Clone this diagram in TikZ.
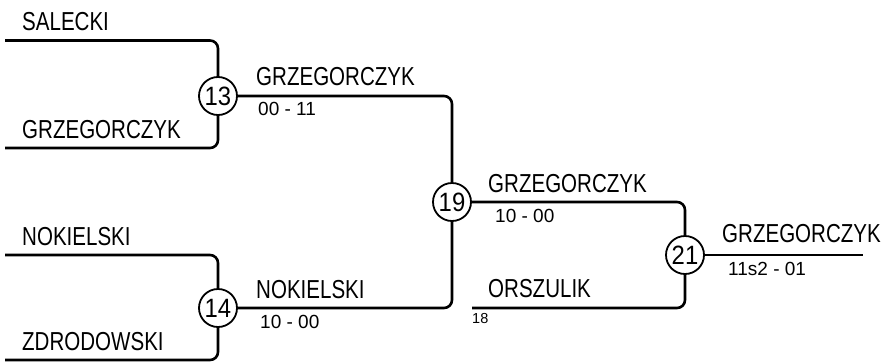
\documentclass[tikz,border=0pt]{standalone}
\usepackage{fontspec}
\setmainfont{Liberation Sans}
\newfontfamily\namefont[FakeStretch=0.79]{Liberation Sans}
\newfontfamily\numfont[FakeStretch=0.9]{Liberation Sans}
\begin{document}
\begin{tikzpicture}[x=1pt,y=-1pt,
  conn/.style={line width=2.6pt, rounded corners=8pt},
  match/.style={circle, draw, line width=1.8pt, minimum size=38pt, inner sep=0pt, fill=white,
     font=\numfont\fontsize{26.5}{26.5}\selectfont},
  pname/.style={anchor=base west, inner sep=0pt, font=\namefont\fontsize{26}{26}\selectfont},
  score/.style={anchor=base west, inner sep=0pt, font=\fontsize{19}{19}\selectfont},
  seed/.style={anchor=base west, inner sep=0pt, font=\fontsize{14.5}{14.5}\selectfont}]
\useasboundingbox (0,0) rectangle (884,362);

% match circles
\node[match] (m13) at (218,96) {13};
\node[match] (m14) at (218,308) {14};
\node[match] (m19) at (452,202) {19};
\node[match] (m21) at (685,255) {21};

% line ends
\coordinate (s1) at (5,40.5);
\coordinate (s2) at (5,148);
\coordinate (s3) at (5,255);
\coordinate (s4) at (5,360);
\coordinate (s5) at (472,308);
\coordinate (fin) at (863,255);

% connectors
\draw[conn] (s1) -| (m13);
\draw[conn] (s2) -| (m13);
\draw[conn] (s3) -| (m14);
\draw[conn] (s4) -| (m14);
\draw[conn] (m13) -| (m19);
\draw[conn] (m14) -| (m19);
\draw[conn] (m19) -| (m21);
\draw[conn] (s5) -| (m21);
\draw[conn] (m21) -- (fin);

% names
\node[pname] (n1) at (22,30) {SALECKI};
\node[pname] (n2) at (22,138) {GRZEGORCZYK};
\node[pname] (n3) at (22,245) {NOKIELSKI};
\node[pname] (n4) at (22,350) {ZDRODOWSKI};
\node[pname] (w13) at (256,85) {GRZEGORCZYK};
\node[pname] (w14) at (256,298) {NOKIELSKI};
\node[pname] (w19) at (488,192) {GRZEGORCZYK};
\node[pname] (n5) at (488,297) {ORSZULIK};
\node[pname] (w21) at (722,242) {GRZEGORCZYK};

% scores
\node[score] (sc13) at (258,115) {00 - 11};
\node[score] (sc14) at (260,328) {10 - 00};
\node[score] (sc19) at (495,222) {10 - 00};
\node[score] (sc21) at (728,275) {11s2 - 01};
\node[seed] (sd) at (472,323) {18};
\end{tikzpicture}
\end{document}
